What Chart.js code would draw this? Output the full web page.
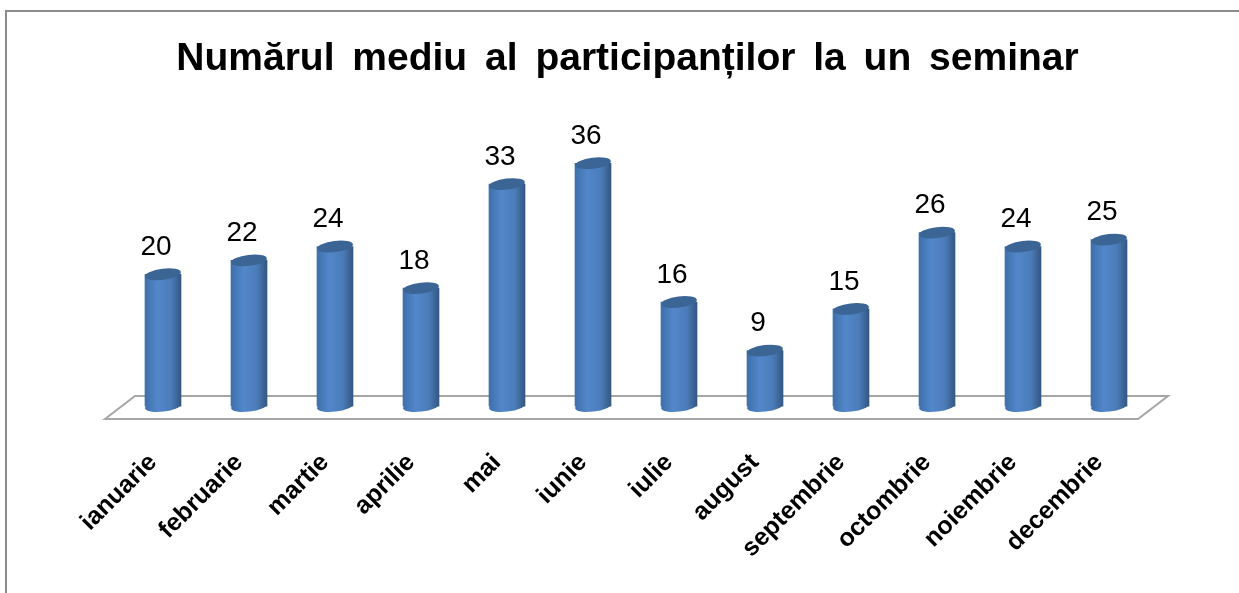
<!DOCTYPE html>
<html><head><meta charset="utf-8">
<style>html,body{margin:0;padding:0;background:#fff}#w{position:relative;width:1239px;height:593px}</style>
<script src="https://cdn.jsdelivr.net/npm/chart.js@4"></script>
</head><body><div id="w"><canvas id="c" width="1239" height="593"></canvas></div>
<script>
const months = ["ianuarie","februarie","martie","aprilie","mai","iunie","iulie","august","septembrie","octombrie","noiembrie","decembrie"];
const participants = [20,22,24,18,33,36,16,9,15,26,24,25];
const chartTitle = "Numărul mediu al participanților la un seminar";

function barGradient(ctx,x){
  const g=ctx.createLinearGradient(x-18,0,x+18,0);
  g.addColorStop(0,'#3f70aa');g.addColorStop(.35,'#5287cb');g.addColorStop(.72,'#4b7cb8');g.addColorStop(1,'#335782');
  return g;
}
const cyl = {
  id:'cyl',
  afterLayout(chart){
    if(chart.titleBlock) chart.titleBlock.left -= 17;
  },
  beforeDraw(chart){
    const {ctx,chartArea:a,scales:{y}} = chart;
    const y0 = y.getPixelForValue(0);
    ctx.save();
    ctx.fillStyle='#fff'; ctx.fillRect(0,0,chart.width,chart.height);
    ctx.strokeStyle='#8c8c8c'; ctx.lineWidth=2;
    ctx.beginPath(); ctx.moveTo(6,chart.height); ctx.lineTo(6,11); ctx.lineTo(chart.width,11); ctx.stroke();
    ctx.strokeStyle='#a6a6a6'; ctx.lineWidth=2; ctx.lineJoin='miter';
    ctx.beginPath();
    ctx.moveTo(a.left-15,y0+6); ctx.lineTo(a.left+15,y0-17);
    ctx.lineTo(a.right+16,y0-17); ctx.lineTo(a.right-14,y0+6); ctx.closePath(); ctx.stroke();
    ctx.restore();
    ctx.wordSpacing='7px';
  },
  beforeDatasetsDraw(chart){
    const {ctx}=chart; const m=chart.getDatasetMeta(0);
    ctx.save();
    m.data.forEach(b=>{
      ctx.fillStyle=barGradient(ctx,b.x);
      ctx.beginPath();ctx.ellipse(b.x,b.base,18,5.5,-0.12,0,Math.PI*2);ctx.fill();
    });
    ctx.restore();
  },
  afterDatasetsDraw(chart){
    const {ctx}=chart; const m=chart.getDatasetMeta(0);
    ctx.save();
    m.data.forEach((b,i)=>{
      ctx.fillStyle='#3a6595';
      ctx.beginPath();ctx.ellipse(b.x,b.y,18,5.5,-0.12,0,Math.PI*2);ctx.fill();
      ctx.fillStyle='#000';ctx.font='28px "Liberation Sans"';ctx.textAlign='center';ctx.textBaseline='middle';
      ctx.fillText(String(participants[i]),b.x-7,b.y-27);
    });
    ctx.restore();
  }
};

new Chart(document.getElementById('c'),{
  type:'bar',
  data:{labels:months,datasets:[{
    data:participants,
    base:1,
    barThickness:36,
    borderSkipped:false,
    borderWidth:0,
    backgroundColor(c){
      const s=c.chart.scales.x;
      const x=s?s.getPixelForValue(c.dataIndex):NaN;
      if(!Number.isFinite(x)) return '#4a7ab8';
      return barGradient(c.chart.ctx,x);
    }
  }]},
  plugins:[cyl],
  options:{
    responsive:false,animation:false,
    layout:{padding:{left:120,right:87,top:0,bottom:0}},
    plugins:{legend:{display:false},tooltip:{enabled:false},
      title:{display:true,text:chartTitle,color:'#000',align:'center',
        font:{family:'"Liberation Sans"',size:39,weight:'bold',lineHeight:1.2},
        padding:{top:36,bottom:18}}},
    scales:{
      y:{display:false,min:0,max:45},
      x:{
        grid:{display:false},border:{display:false},
        afterFit(s){s.height=180;},
        ticks:{color:'#000',minRotation:45,maxRotation:45,padding:27,labelOffset:-10,autoSkip:false,
          font:{family:'"Liberation Sans"',size:25,weight:'bold'}}
      }
    }
  }
});
</script></body></html>
